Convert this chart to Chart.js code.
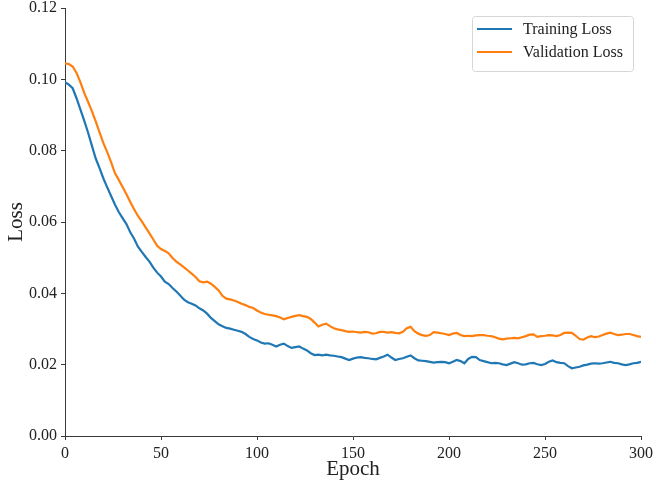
<!DOCTYPE html>
<html>
<head>
<meta charset="utf-8">
<script src="https://cdn.jsdelivr.net/npm/chart.js@4/dist/chart.umd.min.js"></script>
<style>
html,body{margin:0;padding:0;background:#fff;}
#wrap{width:656px;height:488px;position:relative;}
</style>
</head>
<body>
<div id="wrap"><canvas id="c" width="656" height="488"></canvas></div>
<script>
// Epochs sampled every 2 epochs (0..300)
const epochs = [];
for (let e = 0; e <= 300; e += 2) epochs.push(e);

const trainingLoss = [
.0992,.0985,.0975,.0947,.0916,.0884,.0851,.0814,.0778,.0751,
.0722,.0697,.0673,.0649,.0628,.0611,.0594,.0571,.0553,.0531,
.0516,.0502,.0489,.0472,.0458,.0447,.0433,.0426,.0415,.0405,
.0394,.0382,.0375,.0371,.0366,.0358,.0352,.0343,.0331,.0322,
.0313,.0308,.0303,.0301,.0298,.0295,.0292,.0286,.0278,.0272,
.0268,.0262,.0259,.0260,.0256,.0251,.0256,.0259,.0252,.0247,
.0249,.0251,.0245,.0240,.0232,.0227,.0228,.0226,.0228,.0226,
.0225,.0223,.0221,.0217,.0213,.0217,.0220,.0221,.0219,.0218,
.0216,.0215,.0219,.0223,.0228,.0220,.0213,.0216,.0218,.0222,
.0226,.0218,.0212,.0211,.0210,.0208,.0206,.0207,.0208,.0207,
.0204,.0208,.0213,.0210,.0204,.0216,.0222,.0221,.0213,.0210,
.0207,.0204,.0205,.0204,.0201,.0199,.0203,.0207,.0204,.0200,
.0201,.0204,.0205,.0201,.0199,.0202,.0208,.0212,.0207,.0205,
.0204,.0196,.0190,.0192,.0194,.0198,.0200,.0203,.0204,.0203,
.0204,.0206,.0208,.0205,.0204,.0201,.0199,.0201,.0204,.0205,
.0208
];

const validationLoss = [
.1045,.1043,.1036,.1018,.0992,.0962,.0937,.0911,.0882,.0851,
.0821,.0796,.0768,.0737,.0718,.0698,.0678,.0656,.0636,.0617,
.0602,.0585,.0568,.0551,.0533,.0524,.0519,.0512,.0499,.0489,
.0481,.0473,.0464,.0455,.0446,.0434,.0431,.0433,.0427,.0418,
.0408,.0393,.0385,.0383,.0380,.0376,.0371,.0367,.0362,.0359,
.0352,.0346,.0342,.0340,.0338,.0336,.0332,.0327,.0331,.0334,
.0337,.0339,.0336,.0334,.0328,.0318,.0307,.0312,.0315,.0308,
.0302,.0299,.0297,.0294,.0292,.0293,.0291,.0290,.0292,.0291,
.0287,.0288,.0292,.0292,.0290,.0291,.0289,.0288,.0292,.0302,
.0306,.0294,.0287,.0283,.0281,.0283,.0291,.0290,.0288,.0286,
.0283,.0287,.0289,.0283,.0280,.0281,.0280,.0282,.0283,.0283,
.0281,.0280,.0277,.0273,.0271,.0273,.0274,.0275,.0274,.0277,
.0280,.0284,.0285,.0278,.0280,.0281,.0283,.0282,.0280,.0283,
.0289,.0290,.0289,.0281,.0272,.0270,.0276,.0280,.0277,.0279,
.0283,.0287,.0290,.0286,.0283,.0284,.0286,.0286,.0283,.0280,
.0278
];

const seriesNames = ['Training Loss', 'Validation Loss'];
const xTicks = [0, 50, 100, 150, 200, 250, 300];
const yTicks = [0.00, 0.02, 0.04, 0.06, 0.08, 0.10, 0.12];

const FONT = "'Liberation Serif', 'Times New Roman', serif";
const AXIS = '#3a3a3a';

const insideLegend = {
  id: 'insideLegend',
  afterDraw(chart) {
    const ctx = chart.ctx;
    const x0 = 472, y0 = 16, w = 161, h = 55;
    ctx.save();
    ctx.beginPath();
    if (ctx.roundRect) ctx.roundRect(x0 + 0.5, y0 + 0.5, w, h, 3); else ctx.rect(x0 + 0.5, y0 + 0.5, w, h);
    ctx.fillStyle = 'rgba(255,255,255,0.85)';
    ctx.fill();
    ctx.strokeStyle = '#d6d6d6';
    ctx.lineWidth = 1;
    ctx.stroke();
    ctx.font = '16px ' + FONT;
    ctx.textBaseline = 'middle';
    chart.data.datasets.forEach((ds, i) => {
      const yy = y0 + 13 + i * 23;
      ctx.strokeStyle = ds.borderColor;
      ctx.lineWidth = 2;
      ctx.beginPath();
      ctx.moveTo(477, yy);
      ctx.lineTo(512, yy);
      ctx.stroke();
      ctx.fillStyle = '#222';
      ctx.fillText(ds.label, 523, yy + 1);
    });
    ctx.restore();
  }
};

new Chart(document.getElementById('c'), {
  type: 'line',
  data: {
    datasets: [
      {
        label: seriesNames[0],
        data: epochs.map((e, i) => ({x: e, y: trainingLoss[i]})),
        borderColor: '#1f77b4',
        borderWidth: 2.2,
        pointRadius: 0,
        tension: 0,
        fill: false
      },
      {
        label: seriesNames[1],
        data: epochs.map((e, i) => ({x: e, y: validationLoss[i]})),
        borderColor: '#ff7f0e',
        borderWidth: 2.2,
        pointRadius: 0,
        tension: 0,
        fill: false
      }
    ]
  },
  options: {
    responsive: false,
    animation: false,
    devicePixelRatio: 1,
    layout: {padding: {top: 8, right: 15, left: 0, bottom: 0}},
    plugins: {legend: {display: false}, tooltip: {enabled: false}},
    scales: {
      x: {
        type: 'linear',
        min: 0, max: 300,
        afterBuildTicks(s) { s.ticks = xTicks.map(v => ({value: v})); },
        afterFit(s) { s.height = 52; s.paddingLeft = 0; s.paddingRight = 0; },
        grid: {display: true, drawOnChartArea: false, drawTicks: true, tickLength: 4, color: AXIS, lineWidth: 1},
        border: {display: true, color: AXIS, width: 1},
        ticks: {color: '#222', font: {family: FONT, size: 16}, padding: 4, maxRotation: 0,
                callback: v => String(v)},
        title: {display: true, text: 'Epoch', color: '#222', font: {family: FONT, size: 21}, padding: {top: 0, bottom: 6}}
      },
      y: {
        type: 'linear',
        min: 0, max: 0.12,
        afterBuildTicks(s) { s.ticks = yTicks.map(v => ({value: v})); },
        afterFit(s) { s.width = 65; s.paddingTop = 0; s.paddingBottom = 0; },
        grid: {display: true, drawOnChartArea: false, drawTicks: true, tickLength: 4, color: AXIS, lineWidth: 1},
        border: {display: true, color: AXIS, width: 1},
        ticks: {color: '#222', font: {family: FONT, size: 16}, padding: 4,
                callback: v => Number(v).toFixed(2)},
        title: {display: true, text: 'Loss', color: '#222', font: {family: FONT, size: 21}, padding: {top: 4, bottom: 2}}
      }
    }
  },
  plugins: [insideLegend]
});
</script>
</body>
</html>
